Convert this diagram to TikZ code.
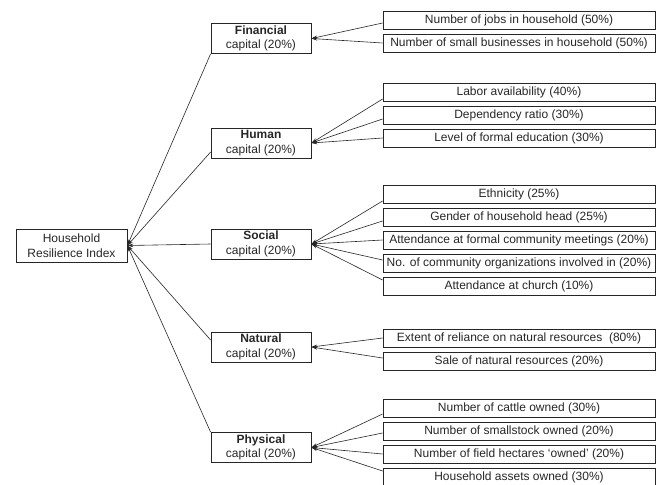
\documentclass[tikz,border=0pt]{standalone}
\usepackage{fontspec}
\setmainfont{Liberation Sans}
\usetikzlibrary{arrows.meta}

\begin{document}
\begin{tikzpicture}[x=1pt, y=-1pt,
	font=\fontsize{12}{14.5}\selectfont,
	rootbox/.style={draw=black!85, line width=0.8pt, text=black!85, align=center, minimum width=111pt, minimum height=33pt, inner sep=1pt},
	capbox/.style={draw=black!85, line width=0.8pt, text=black!85, align=center, minimum width=100pt, minimum height=30pt, inner sep=1pt},
	itembox/.style={draw=black!85, line width=0.8pt, text=black!85, minimum width=272pt, minimum height=18pt, inner sep=1pt},
	link/.style={draw=black!85, line width=0.6pt, -{Stealth[length=6pt, width=3.5pt]}}]
	\useasboundingbox (0,0) rectangle (662,485);

	% index and capitals
	\node[rootbox] (hri) at (71.5,245.5) {Household\\Resilience Index};
	\node[capbox] (fin) at (261,38.5) {\textbf{Financial}\\capital (20\%)};
	\node[capbox] (hum) at (261,143) {\textbf{Human}\\capital (20\%)};
	\node[capbox] (soc) at (261,244) {\textbf{Social}\\capital (20\%)};
	\node[capbox] (nat) at (261,347) {\textbf{Natural}\\capital (20\%)};
	\node[capbox] (phy) at (261,447.5) {\textbf{Physical}\\capital (20\%)};

	% indicators
	\node[itembox] (fin1) at (519,20) {Number of jobs in household (50\%)};
	\node[itembox] (fin2) at (519,43) {Number of small businesses in household (50\%)};
	\node[itembox] (hum1) at (519,92) {Labor availability (40\%)};
	\node[itembox] (hum2) at (519,115) {Dependency ratio (30\%)};
	\node[itembox] (hum3) at (519,138) {Level of formal education (30\%)};
	\node[itembox] (soc1) at (519,194) {Ethnicity (25\%)};
	\node[itembox] (soc2) at (519,217) {Gender of household head (25\%)};
	\node[itembox] (soc3) at (519,240) {Attendance at formal community meetings (20\%)};
	\node[itembox] (soc4) at (519,263) {No. of community organizations involved in (20\%)};
	\node[itembox] (soc5) at (519,286) {Attendance at church (10\%)};
	\node[itembox] (nat1) at (519,338) {Extent of reliance on natural resources\ \ (80\%)};
	\node[itembox] (nat2) at (519,361) {Sale of natural resources (20\%)};
	\node[itembox] (phy1) at (519,408) {Number of cattle owned (30\%)};
	\node[itembox] (phy2) at (519,431) {Number of smallstock owned (20\%)};
	\node[itembox] (phy3) at (519,454) {Number of field hectares `owned' (20\%)};
	\node[itembox] (phy4) at (519,477) {Household assets owned (30\%)};

	% capitals into index
	\draw[link] (fin.south west) -- (hri.east);
	\draw[link] ([yshift=-9pt]hum.west) -- (hri.east);
	\draw[link] (soc.west) -- (hri.east);
	\draw[link] ([yshift=7pt]nat.west) -- (hri.east);
	\draw[link] (phy.north west) -- (hri.east);

	% indicators into capitals
	\draw[link] ([yshift=-3pt]fin1.west) -- (fin.east);
	\draw[link] (fin2.west) -- (fin.east);
	\draw[link] ([yshift=-7pt]hum1.west) -- (hum.east);
	\draw[link] ([yshift=-4pt]hum2.west) -- (hum.east);
	\draw[link] (hum3.west) -- (hum.east);
	\draw[link] ([yshift=-7pt]soc1.west) -- (soc.east);
	\draw[link] ([yshift=-4pt]soc2.west) -- (soc.east);
	\draw[link] (soc3.west) -- (soc.east);
	\draw[link] ([yshift=3pt]soc4.west) -- (soc.east);
	\draw[link] ([yshift=6pt]soc5.west) -- (soc.east);
	\draw[link] (nat1.west) -- (nat.east);
	\draw[link] ([yshift=3pt]nat2.west) -- (nat.east);
	\draw[link] ([yshift=-6pt]phy1.west) -- (phy.east);
	\draw[link] ([yshift=-2pt]phy2.west) -- (phy.east);
	\draw[link] (phy3.west) -- (phy.east);
	\draw[link] ([yshift=6pt]phy4.west) -- (phy.east);
\end{tikzpicture}
\end{document}
